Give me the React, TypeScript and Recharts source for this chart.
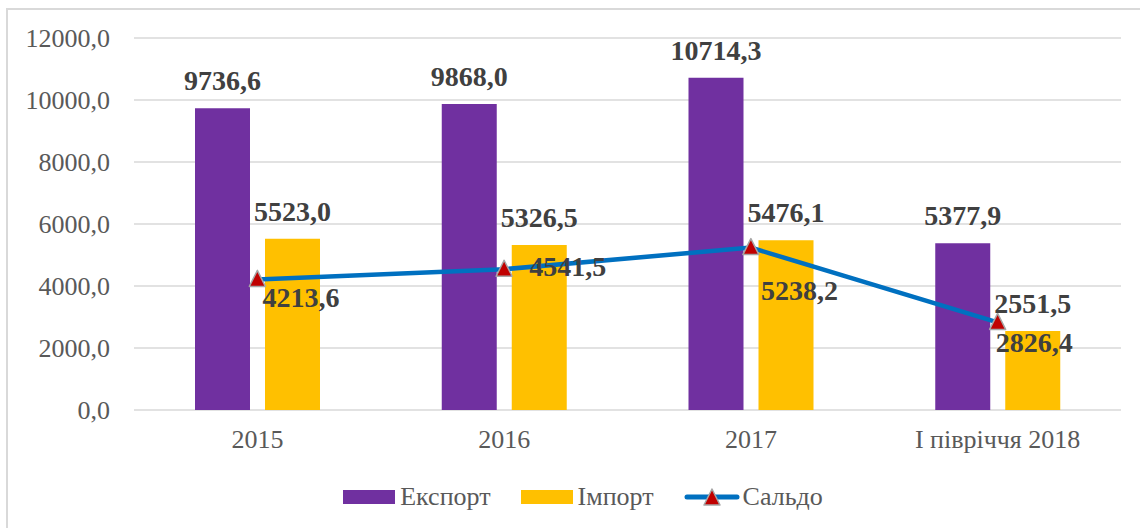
import { ComposedChart, Bar, Line, XAxis, YAxis, CartesianGrid, LabelList, Legend } from 'recharts'

const categories = ['2015', '2016', '2017', 'І півріччя 2018']
const exportValues = [9736.6, 9868.0, 10714.3, 5377.9]
const importValues = [5523.0, 5326.5, 5476.1, 2551.5]
const saldoValues = [4213.6, 4541.5, 5238.2, 2826.4]
const yTicks = [0, 2000, 4000, 6000, 8000, 10000, 12000]

// saldo labels were nudged by hand in the original, keep the nudges apart from the data
const saldoLabelShift: [number, number][] = [
  [5, 28],
  [25, 7],
  [10, 52],
  [-2, 30],
]

const FONT = "'Liberation Serif', 'Times New Roman', serif"
const PURPLE = '#7030A0'
const YELLOW = '#FFC000'
const BLUE = '#0070C0'
const RED = '#C00000'
const LABEL = '#404040'
const TICK = '#595959'

const fmt = (v: number) => Number(v).toFixed(1).replace('.', ',')

const rows = categories.map((name, i) => ({
  name,
  export: exportValues[i],
  import: importValues[i],
  saldo: saldoValues[i],
}))

const labelStyle = { fontFamily: FONT, fontWeight: 700, fontSize: 28 }

const BarLabel = (props: any) => {
  const { x, y, width, value } = props
  return (
    <text x={x + width / 2} y={y - 18} fill={LABEL} textAnchor="middle" style={labelStyle}>
      {fmt(value)}
    </text>
  )
}

const SaldoDot = (props: any) => {
  const { cx, cy, index, payload } = props
  const value = props.value ?? payload?.saldo
  const [dx, dy] = saldoLabelShift[index] ?? [5, 28]
  return (
    <g key={`saldo-dot-${index}`}>
      <polygon
        points={`${cx},${cy - 9} ${cx - 8},${cy + 7} ${cx + 8},${cy + 7}`}
        fill={RED}
        stroke="#A6A6A6"
        strokeWidth={1.5}
        strokeLinejoin="round"
      />
      <text x={cx + dx} y={cy + dy} fill={LABEL} style={labelStyle}>
        {fmt(value)}
      </text>
    </g>
  )
}

const LegendContent = () => (
  <div
    style={{
      display: 'flex',
      justifyContent: 'center',
      alignItems: 'center',
      fontFamily: FONT,
      fontSize: 26,
      color: TICK,
      paddingLeft: 26,
    }}
  >
    <span style={{ display: 'inline-block', width: 52, height: 14, background: PURPLE, marginRight: 5 }} />
    <span style={{ marginRight: 30 }}>Експорт</span>
    <span style={{ display: 'inline-block', width: 52, height: 14, background: YELLOW, marginRight: 5 }} />
    <span style={{ marginRight: 30 }}>Імпорт</span>
    <svg width={56} height={20} style={{ marginRight: 3 }}>
      <line x1={3} y1={10} x2={53} y2={10} stroke={BLUE} strokeWidth={5} strokeLinecap="round" />
      <polygon points="28,2 20,18 36,18" fill={RED} stroke="#A6A6A6" strokeWidth={1.5} strokeLinejoin="round" />
    </svg>
    <span>Сальдо</span>
  </div>
)

export default function App() {
  return (
    <div
      style={{
        position: 'absolute',
        left: 0,
        top: 0,
        width: 1140,
        height: 528,
        overflow: 'hidden',
        background: '#fff',
        fontFamily: FONT,
      }}
    >
      <div
        style={{
          position: 'absolute',
          left: 6,
          top: 8,
          width: 1140,
          height: 528,
          border: '2px solid #d9d9d9',
          pointerEvents: 'none',
        }}
      />
      <ComposedChart
        width={1140}
        height={528}
        data={rows}
        margin={{ top: 38, right: 19, left: 14, bottom: 78 }}
        barGap={15}
      >
        <CartesianGrid vertical={false} stroke="#d9d9d9" strokeWidth={1.5} />
        <XAxis
          dataKey="name"
          axisLine={false}
          tickLine={false}
          height={40}
          tickMargin={14}
          tick={{ fontSize: 26, fill: TICK, fontFamily: FONT }}
        />
        <YAxis
          domain={[0, 12000]}
          ticks={yTicks}
          width={120}
          axisLine={false}
          tickLine={false}
          tickMargin={18}
          tickFormatter={fmt}
          tick={{ fontSize: 26, fill: TICK, fontFamily: FONT }}
        />
        <Legend
          layout="horizontal"
          verticalAlign="middle"
          align="center"
          wrapperStyle={{ top: 482, left: 0, width: 1140 }}
          content={LegendContent}
        />
        <Bar dataKey="export" name="Експорт" fill={PURPLE} barSize={55} isAnimationActive={false}>
          <LabelList dataKey="export" content={BarLabel} />
        </Bar>
        <Bar dataKey="import" name="Імпорт" fill={YELLOW} barSize={55} isAnimationActive={false}>
          <LabelList dataKey="import" content={BarLabel} />
        </Bar>
        <Line
          type="linear"
          dataKey="saldo"
          name="Сальдо"
          stroke={BLUE}
          strokeWidth={4.5}
          dot={SaldoDot}
          activeDot={false}
          isAnimationActive={false}
        />
      </ComposedChart>
    </div>
  )
}
